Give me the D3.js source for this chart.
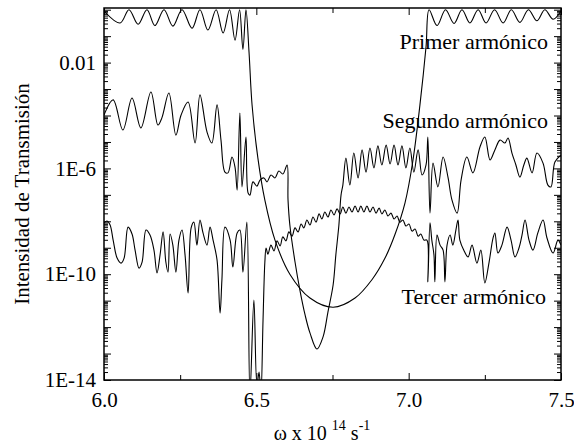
<!DOCTYPE html>
<html><head><meta charset="utf-8">
<script src="https://cdn.jsdelivr.net/npm/d3@7"></script>
<style>body{margin:0;background:#fff}svg{display:block}</style>
</head><body><svg id="c" width="574" height="444"></svg>
<script>
// ---- data ----
const xDomain = [6.0, 7.5];
const yDomain = [1e-14, 1.16];
const xMajorTicks = [6.0, 6.5, 7.0, 7.5];
const xMinorTicks = [6.25, 6.75, 7.25];
const yLabelTicks = [1e-2, 1e-6, 1e-10, 1e-14];
const yLabelText = ["0.01", "1E-6", "1E-10", "1E-14"];
const seriesNames = ["Primer armónico", "Segundo armónico", "Tercer armónico"];

// log10 of transmitted intensity vs omega (x 10^14 s^-1)
const primerW = [6.000,6.053,6.082,6.112,6.141,6.167,6.197,6.226,6.256,6.289,6.315,6.341,6.368,6.391,6.412,6.430,6.445,6.456,6.466,6.476,6.486,6.505,6.528,6.561,6.610,6.676,6.752,6.824,6.880,6.922,6.955,6.988,7.014,7.037,7.057,7.067,7.093,7.121,7.149,7.175,7.201,7.228,7.254,7.282,7.310,7.337,7.365,7.393,7.421,7.447,7.474,7.500];
const primerLog = [-0.05,-0.50,0,-0.55,0,-0.60,0,-0.62,0,-0.70,0,-0.77,0,-0.88,0,-1.15,0,-1.50,0,-1.6,-3.6,-5.6,-7.2,-8.7,-10.0,-10.9,-11.25,-10.9,-10.2,-9.4,-8.5,-7.3,-5.7,-3.6,-1.4,0,-0.6,0,-0.52,0,-0.5,0,-0.5,0,-0.5,0,-0.48,0,-0.42,0,-0.36,-0.05];

const segundoW = [6.000,6.030,6.062,6.092,6.121,6.154,6.177,6.190,6.213,6.236,6.253,6.276,6.299,6.315,6.338,6.354,6.371,6.384,6.397,6.407,6.420,6.430,6.437,6.446,6.453,6.466,6.473,6.479,6.489,6.502,6.512,6.525,6.535,6.548,6.561,6.574,6.587,6.601,6.604,6.610,6.627,6.643,6.660,6.676,6.699,6.719,6.735,6.752,6.761,6.771,6.778,6.784,6.794,6.807,6.820,6.834,6.847,6.860,6.873,6.886,6.899,6.912,6.926,6.939,6.952,6.965,6.978,6.991,7.004,7.017,7.031,7.044,7.057,7.063,7.070,7.080,7.096,7.113,7.129,7.142,7.159,7.172,7.191,7.211,7.234,7.250,7.267,7.283,7.300,7.316,7.326,7.339,7.352,7.365,7.378,7.388,7.405,7.421,7.441,7.457,7.467,7.480,7.500];
const segundoLog = [-3.98,-3.41,-4.55,-3.34,-4.47,-3.11,-4.36,-4.09,-3.15,-4.74,-3.98,-3.49,-5.04,-3.22,-4.62,-5.04,-3.60,-4.93,-6.14,-6.17,-5.57,-5.95,-6.82,-3.91,-6.70,-4.81,-6.93,-7.01,-6.51,-6.67,-6.44,-6.36,-6.51,-6.25,-6.36,-6.10,-6.21,-5.87,-7.19,-8.14,-9.54,-10.60,-11.54,-12.22,-12.83,-12.37,-11.43,-10.41,-9.27,-8.14,-7.01,-6.63,-5.61,-6.63,-5.42,-6.36,-5.30,-6.14,-5.23,-5.98,-5.15,-5.87,-5.12,-5.83,-5.12,-5.87,-5.15,-5.98,-5.23,-6.14,-5.30,-6.25,-5.87,-4.81,-7.69,-5.80,-6.70,-5.57,-6.33,-7.19,-7.69,-6.44,-5.57,-6.17,-5.19,-4.81,-5.68,-5.30,-4.93,-5.04,-4.85,-5.42,-5.87,-6.33,-5.87,-5.61,-6.17,-5.42,-5.80,-6.63,-6.70,-5.76,-5.49];

const tercerW = [6.000,6.010,6.020,6.030,6.043,6.056,6.066,6.079,6.092,6.102,6.115,6.125,6.138,6.151,6.164,6.174,6.184,6.194,6.203,6.210,6.217,6.226,6.236,6.246,6.256,6.266,6.276,6.286,6.295,6.305,6.315,6.325,6.338,6.348,6.358,6.371,6.381,6.387,6.397,6.414,6.423,6.437,6.446,6.456,6.469,6.479,6.492,6.502,6.509,6.515,6.522,6.528,6.532,6.538,6.548,6.558,6.568,6.578,6.587,6.597,6.607,6.617,6.627,6.637,6.647,6.656,6.666,6.676,6.686,6.696,6.706,6.715,6.725,6.735,6.745,6.755,6.765,6.775,6.784,6.794,6.804,6.814,6.824,6.834,6.843,6.853,6.863,6.873,6.883,6.893,6.903,6.912,6.922,6.932,6.942,6.952,6.962,6.971,6.981,6.991,7.001,7.011,7.021,7.031,7.040,7.050,7.060,7.063,7.070,7.076,7.083,7.086,7.093,7.103,7.113,7.119,7.126,7.136,7.145,7.155,7.162,7.168,7.181,7.195,7.208,7.224,7.237,7.250,7.264,7.277,7.283,7.293,7.306,7.323,7.336,7.349,7.362,7.372,7.382,7.395,7.408,7.424,7.441,7.454,7.474,7.490,7.500];
const tercerLog = [-8.06,-7.99,-8.14,-8.71,-9.39,-9.58,-9.39,-8.22,-8.48,-9.09,-9.77,-9.54,-8.33,-8.52,-9.09,-9.95,-9.27,-8.40,-9.54,-9.92,-8.48,-8.90,-9.92,-8.71,-8.33,-9.27,-10.71,-8.25,-8.03,-8.90,-7.95,-8.44,-8.90,-8.22,-8.71,-9.46,-11.47,-10.22,-8.22,-8.71,-9.73,-8.44,-8.33,-9.92,-8.03,-14.57,-10.98,-14.19,-13.70,-14.57,-11.73,-9.54,-9.01,-9.24,-8.90,-9.12,-8.74,-8.93,-8.59,-8.74,-8.40,-8.56,-8.25,-8.40,-8.10,-8.25,-7.95,-8.14,-7.84,-8.03,-7.72,-7.91,-7.65,-7.84,-7.57,-7.76,-7.53,-7.72,-7.46,-7.69,-7.46,-7.65,-7.42,-7.65,-7.42,-7.65,-7.42,-7.65,-7.46,-7.69,-7.50,-7.72,-7.57,-7.80,-7.69,-7.91,-7.80,-8.03,-7.95,-8.18,-8.10,-8.37,-8.29,-8.56,-8.48,-8.71,-8.71,-10.29,-8.06,-8.71,-9.27,-10.29,-8.52,-8.90,-9.09,-10.29,-8.90,-8.52,-8.90,-8.33,-7.95,-8.71,-9.09,-9.35,-8.90,-9.58,-9.09,-10.33,-9.54,-8.63,-8.44,-9.20,-8.90,-8.22,-8.71,-9.35,-9.01,-8.52,-7.95,-8.71,-9.09,-8.44,-7.95,-8.63,-9.20,-8.71,-8.90];

// ---- layout ----
const m = {left: 104, right: 561, top: 8, bottom: 380};
const FONT = "'Liberation Serif','Times New Roman',Tinos,serif";

const svg = d3.select("#c");
const x = d3.scaleLinear().domain(xDomain).range([m.left, m.right]);
const y = d3.scaleLog().domain(yDomain).range([m.bottom, m.top]);

svg.append("defs").append("clipPath").attr("id", "clip")
  .append("rect").attr("x", m.left).attr("y", m.top)
  .attr("width", m.right - m.left).attr("height", m.bottom - m.top);

const series = [
  {name: seriesNames[0], w: primerW, v: primerLog},
  {name: seriesNames[1], w: segundoW, v: segundoLog},
  {name: seriesNames[2], w: tercerW, v: tercerLog}
];

const line = d3.line()
  .x(d => x(d[0]))
  .y(d => y(Math.pow(10, d[1])))
  .curve(d3.curveCatmullRom.alpha(0.5));

const g = svg.append("g").attr("clip-path", "url(#clip)");
series.forEach(s => {
  const pts = s.w.map((w, i) => [w, s.v[i]]);
  g.append("path").datum(pts).attr("d", line)
    .attr("fill", "none").attr("stroke", "#000").attr("stroke-width", 1.1)
    .attr("stroke-linejoin", "round");
});

// ---- axes ----
const decades = d3.range(-14, 1).map(e => Math.pow(10, e));
const minors = [];
for (let e = -14; e <= 0; e++) for (let k = 2; k <= 9; k++) {
  const v = k * Math.pow(10, e);
  if (v <= yDomain[1]) minors.push(v);
}
const labelFor = d => {
  const i = yLabelTicks.findIndex(t => Math.abs(Math.log10(t) - Math.log10(d)) < 1e-6);
  return i >= 0 ? yLabelText[i] : "";
};

function styleAxis(sel) {
  sel.select(".domain").remove();
  sel.selectAll("line").attr("stroke", "#000").attr("stroke-width", 1);
  sel.selectAll("text").style("font-family", FONT).attr("font-size", 21).attr("fill", "#000");
}

svg.append("g").attr("transform", `translate(${m.left},0)`)
  .call(d3.axisLeft(y).tickValues(decades).tickSize(-7).tickPadding(8).tickFormat(labelFor)).call(styleAxis);
svg.append("g").attr("transform", `translate(${m.left},0)`)
  .call(d3.axisLeft(y).tickValues(minors).tickSize(-4).tickFormat("")).call(styleAxis);
svg.append("g").attr("transform", `translate(${m.right},0)`)
  .call(d3.axisRight(y).tickValues(decades).tickSize(-7).tickFormat("")).call(styleAxis);
svg.append("g").attr("transform", `translate(${m.right},0)`)
  .call(d3.axisRight(y).tickValues(minors).tickSize(-4).tickFormat("")).call(styleAxis);

svg.append("g").attr("transform", `translate(0,${m.bottom})`)
  .call(d3.axisBottom(x).tickValues(xMajorTicks).tickSize(-7).tickPadding(12).tickFormat(d3.format(".1f"))).call(styleAxis);
svg.append("g").attr("transform", `translate(0,${m.bottom})`)
  .call(d3.axisBottom(x).tickValues(xMinorTicks).tickSize(-5).tickFormat("")).call(styleAxis);
svg.append("g").attr("transform", `translate(0,${m.top})`)
  .call(d3.axisTop(x).tickValues(xMajorTicks).tickSize(-7).tickFormat("")).call(styleAxis);
svg.append("g").attr("transform", `translate(0,${m.top})`)
  .call(d3.axisTop(x).tickValues(xMinorTicks).tickSize(-5).tickFormat("")).call(styleAxis);

svg.append("rect").attr("x", m.left).attr("y", m.top)
  .attr("width", m.right - m.left).attr("height", m.bottom - m.top)
  .attr("fill", "none").attr("stroke", "#000").attr("stroke-width", 1.5);

// ---- labels ----
svg.append("text")
  .attr("transform", `translate(22,${(m.top + m.bottom) / 2}) rotate(-90)`)
  .attr("text-anchor", "middle").attr("dominant-baseline", "central")
  .style("font-family", FONT).attr("font-size", 21)
  .text("Intensidad de Transmisión");

const xt = svg.append("text").attr("x", 322).attr("y", 440)
  .attr("text-anchor", "middle").style("font-family", FONT).attr("font-size", 20);
xt.append("tspan").text("ω x 10 ");
xt.append("tspan").attr("dy", -10).attr("font-size", 14).text("14");
xt.append("tspan").attr("dy", 10).text(" s");
xt.append("tspan").attr("dy", -10).attr("font-size", 14).text("-1");

const annot = [
  {t: seriesNames[0], x: 548, y: 49},
  {t: seriesNames[1], x: 548, y: 128},
  {t: seriesNames[2], x: 546, y: 304}
];
svg.selectAll("text.annot").data(annot).enter().append("text")
  .attr("class", "annot").attr("x", d => d.x).attr("y", d => d.y)
  .attr("text-anchor", "end").style("font-family", FONT).attr("font-size", 22)
  .text(d => d.t);
</script>
</body></html>
